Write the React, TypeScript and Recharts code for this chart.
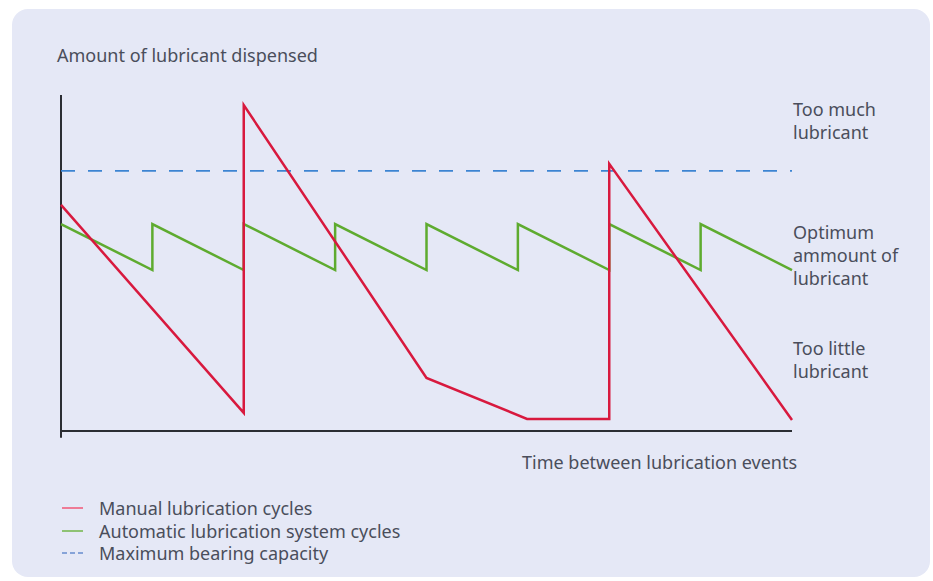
import React from 'react';
import { LineChart, Line, XAxis, YAxis, ReferenceLine } from 'recharts';

// time axis runs 0..8 (one automatic cycle per unit), amount axis 0..100
const manualTime = [0, 2, 2, 4, 5.1, 6, 6, 8];
const manualAmount = [67.3, 5.4, 97.0, 15.8, 3.6, 3.6, 79.5, 3.3];

const autoTime = [0, 1, 1, 2, 2, 3, 3, 4, 4, 5, 5, 6, 6, 7, 7, 8];
const autoAmount = [61.6, 47.9, 61.6, 47.9, 61.6, 47.9, 61.6, 47.9, 61.6, 47.9, 61.6, 47.9, 61.6, 47.9, 61.6, 47.9];

const maxBearingCapacity = 77.4;

const zoneLabels = [
  { lines: ['Too much', 'lubricant'], top: 98 },
  { lines: ['Optimum', 'ammount of', 'lubricant'], top: 221 },
  { lines: ['Too little', 'lubricant'], top: 337 },
];

const legendItems = [
  { name: 'Manual lubrication cycles', color: '#ee7b96', dashed: false },
  { name: 'Automatic lubrication system cycles', color: '#8ec274', dashed: false },
  { name: 'Maximum bearing capacity', color: '#86a3d8', dashed: true },
];

const manualData = manualTime.map((x, i) => ({ x, y: manualAmount[i] }));
const autoData = autoTime.map((x, i) => ({ x, y: autoAmount[i] }));

const font = '"Noto Sans", sans-serif';
const textColor = '#4a4e5b';
const axisColor = '#2b2d33';

export default function App() {
  return (
    <div style={{ position: 'absolute', left: 0, top: 0, width: 933, height: 581, background: '#fff', fontFamily: font, color: textColor }}>
      <div style={{ position: 'absolute', left: 12, top: 9, width: 918, height: 568, background: '#e5e8f6', borderRadius: 16 }} />

      <div style={{ position: 'absolute', left: 0, top: 0 }}>
        <LineChart width={933} height={581} margin={{ top: 95, right: 141, bottom: 150, left: 61 }}>
          <XAxis type="number" dataKey="x" domain={[0, 8]} hide />
          <YAxis type="number" domain={[0, 100]} hide />
          <ReferenceLine
            segment={[{ x: 0, y: -2 }, { x: 0, y: 100 }]}
            ifOverflow="visible"
            stroke={axisColor}
            strokeWidth={2}
          />
          <ReferenceLine
            segment={[{ x: 0, y: 0 }, { x: 8, y: 0 }]}
            ifOverflow="visible"
            stroke={axisColor}
            strokeWidth={2}
          />
          <ReferenceLine y={maxBearingCapacity} stroke="#3c84d2" strokeWidth={1.8} strokeDasharray="14 13" />
          <Line data={autoData} dataKey="y" type="linear" stroke="#5eab2f" strokeWidth={2.5} dot={false} isAnimationActive={false} />
          <Line data={manualData} dataKey="y" type="linear" stroke="#d8193e" strokeWidth={2.5} dot={false} isAnimationActive={false} />
        </LineChart>
      </div>

      <div style={{ position: 'absolute', left: 57, top: 44, fontSize: 18, lineHeight: '22px' }}>
        Amount of lubricant dispensed
      </div>

      {zoneLabels.map((z) => (
        <div key={z.top} style={{ position: 'absolute', left: 793, top: z.top, fontSize: 18, lineHeight: '23px' }}>
          {z.lines.map((l) => (
            <div key={l}>{l}</div>
          ))}
        </div>
      ))}

      <div style={{ position: 'absolute', left: 522, top: 451, fontSize: 18, lineHeight: '22px' }}>
        Time between lubrication events
      </div>

      <div style={{ position: 'absolute', left: 62, top: 497, fontSize: 18, lineHeight: '22.5px' }}>
        {legendItems.map((item) => (
          <div key={item.name} style={{ display: 'flex', alignItems: 'center' }}>
            <svg width={37} height={10}>
              <line
                x1={0}
                x2={21}
                y1={5}
                y2={5}
                stroke={item.color}
                strokeWidth={2}
                strokeDasharray={item.dashed ? '5 3' : undefined}
              />
            </svg>
            <span>{item.name}</span>
          </div>
        ))}
      </div>
    </div>
  );
}
